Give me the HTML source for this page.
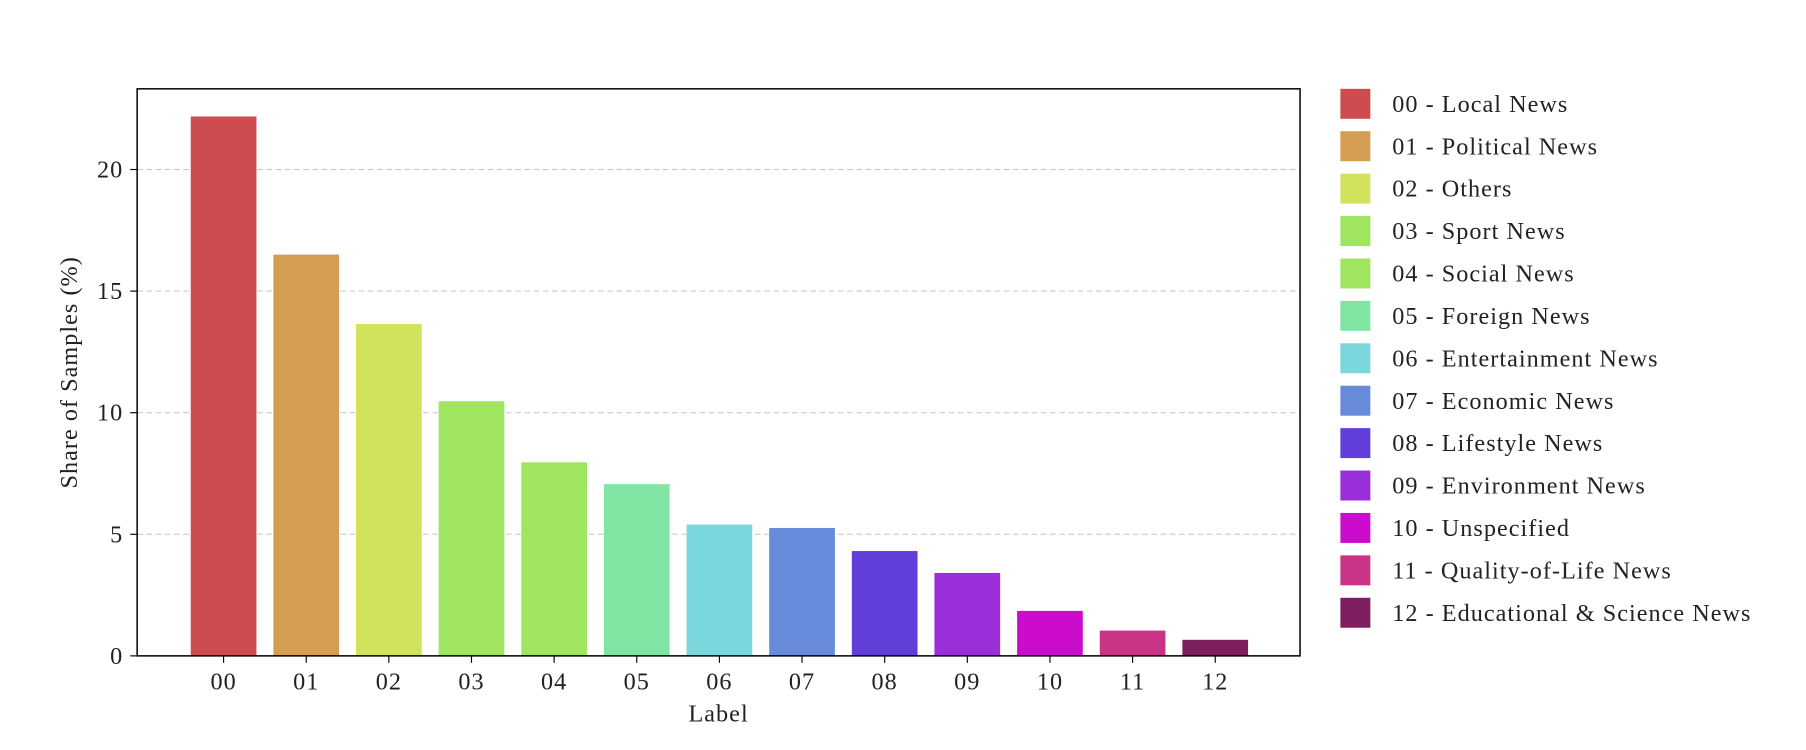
<!DOCTYPE html>
<html><head><meta charset="utf-8"><style>
html,body{margin:0;padding:0;background:#fff;}
svg{display:block;font-family:"Liberation Serif","DejaVu Serif",serif;}
svg text{letter-spacing:0.9px;}
</style></head><body>
<svg id="chart" width="1806" height="750" viewBox="0 0 1567 650.6" xmlns="http://www.w3.org/2000/svg"></svg>
<script>
const categories = ["00","01","02","03","04","05","06","07","08","09","10","11","12"];
const legendLabels = ["00 - Local News","01 - Political News","02 - Others","03 - Sport News","04 - Social News","05 - Foreign News","06 - Entertainment News","07 - Economic News","08 - Lifestyle News","09 - Environment News","10 - Unspecified","11 - Quality-of-Life News","12 - Educational & Science News"];
const values = [22.18,16.5,13.65,10.47,7.96,7.06,5.4,5.26,4.31,3.41,1.85,1.04,0.66];
const colors = ["#cc4c4f","#d39d52","#d3e25d","#9fe55f","#9fe55f","#80e4a3","#7ad7dd","#668bdb","#613ed9","#9a2ed9","#cc0ccc","#ca3487","#7d1f5e"];
const yTicks = [0,5,10,15,20];

const svg = document.getElementById('chart');
const NS = "http://www.w3.org/2000/svg";
const L=119, R=1128, T=77, B=569;
const y = v => B - v*21.1;
const x = i => 194 + i*71.7;
const bw = 57;
function mk(tag, attrs, text){const e=document.createElementNS(NS,tag);for(const k in attrs)e.setAttribute(k,attrs[k]);if(text!==undefined)e.textContent=text;svg.appendChild(e);return e;}

yTicks.forEach(t=>{
  if(t>0){const g=mk('line',{x1:L,x2:R,y1:y(t),y2:y(t),stroke:'#cccccc','stroke-width':1,'stroke-dasharray':'5,3'});
  
  }
  const tk=mk('line',{x1:L-6,x2:L,y1:y(t),y2:y(t),stroke:'#000','stroke-width':1});
  
  
  const lb=mk('text',{x:L-12,y:y(t)+7,'text-anchor':'end','font-size':21,fill:'#222'},String(t));
  
  
});

values.forEach((v,i)=>{
  const b=mk('rect',{x:x(i)-bw/2,y:y(v),width:bw,height:B-y(v),fill:colors[i]});
  
  
  const tk=mk('line',{x1:x(i),x2:x(i),y1:B,y2:B+6,stroke:'#000','stroke-width':1});
  
  
  const lb=mk('text',{x:x(i),y:B+29,'text-anchor':'middle','font-size':21,fill:'#222'},categories[i]);
  
  
});

const frame=mk('rect',{x:L,y:T,width:R-L,height:B-T,fill:'none',stroke:'#000','stroke-width':1.3});



const xt=mk('text',{x:(L+R)/2,y:626,'text-anchor':'middle','font-size':21,fill:'#222'},'Label');


const yt=mk('text',{x:0,y:0,'text-anchor':'middle','font-size':21,fill:'#222',transform:'translate(67,323) rotate(-90)'},'Share of Samples (%)');



legendLabels.forEach((s,i)=>{
  const yy=77+i*36.8;
  const sw=mk('rect',{x:1163,y:yy,width:26,height:26,fill:colors[i]});
  
  
  const t=mk('text',{x:1208,y:yy+20,'font-size':21,fill:'#222'},s);
  
  
});
</script>
</body></html>
